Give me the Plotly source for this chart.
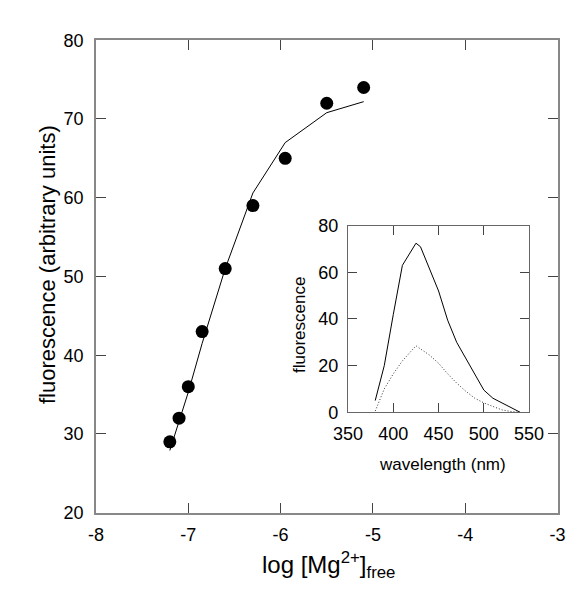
import plotly.graph_objects as go

# Main panel data
log_mg = [-7.2, -7.1, -7.0, -6.85, -6.6, -6.3, -5.95, -5.5, -5.1]
fluor = [29, 32, 36, 43, 51, 59, 65, 72, 74]
fit_x = [-7.2, -7.1, -7.0, -6.85, -6.6, -6.3, -5.95, -5.5, -5.1]
fit_y = [27.9, 31.5, 35.3, 41.5, 51.0, 60.6, 67.0, 70.8, 72.2]

# Inset data
wl_solid = [380, 390, 400, 410, 425, 430, 450, 460, 470, 500, 510, 540]
fl_solid = [5, 20, 42, 63, 72.5, 71, 52, 39.5, 30, 9.5, 6, 0]
wl_dot = [380, 390, 400, 410, 425, 440, 450, 460, 470, 480, 490, 500, 510, 520, 530, 540]
fl_dot = [0.5, 10, 16.5, 22, 28.5, 24.5, 21, 16.5, 12.5, 9, 6, 4, 2.5, 1, 0.3, 0]

main_xticks = [-8, -7, -6, -5, -4, -3]
main_xlabels = ["-8", "-7", "-6", "-5", "-4", "-3"]
main_yticks = [20, 30, 40, 50, 60, 70, 80]
inset_xticks = [350, 400, 450, 500, 550]
inset_yticks = [0, 20, 40, 60, 80]

W, H = 574, 592
FONT = "Liberation Sans, Arial, sans-serif"


def xd(a, b):
    return [a / W, b / W]


def yd(top, bottom):
    return [1 - bottom / H, 1 - top / H]


fig = go.Figure()
fig.add_trace(go.Scatter(x=fit_x, y=fit_y, mode="lines",
                         line=dict(color="black", width=1), xaxis="x", yaxis="y"))
fig.add_trace(go.Scatter(x=log_mg, y=fluor, mode="markers",
                         marker=dict(color="black", size=13), xaxis="x", yaxis="y"))
fig.add_trace(go.Scatter(x=wl_solid, y=fl_solid, mode="lines",
                         line=dict(color="black", width=1), xaxis="x2", yaxis="y2"))
fig.add_trace(go.Scatter(x=wl_dot, y=fl_dot, mode="lines",
                         line=dict(color="#333", width=1, dash="1px,2px"), xaxis="x2", yaxis="y2"))

tick_font = dict(family=FONT, color="black", size=18)
common = dict(showgrid=False, zeroline=False, showline=True, mirror="ticks",
              ticks="inside", tickcolor="#444")

fig.update_layout(
    width=W, height=H,
    margin=dict(l=0, r=0, t=0, b=0),
    paper_bgcolor="white", plot_bgcolor="white",
    showlegend=False,
    font=dict(family=FONT, color="black", size=18),
    xaxis=dict(domain=xd(77, 564), range=[-8, -3], tickvals=main_xticks, ticktext=main_xlabels,
               linecolor="#888", linewidth=1.5, ticklen=10, tickfont=tick_font,
               ticklabelstandoff=5, anchor="y", **common),
    yaxis=dict(domain=yd(23, 512), range=[20, 80], tickvals=main_yticks,
               linecolor="#888", linewidth=1.5, ticklen=10, tickfont=tick_font,
               ticklabelstandoff=7, anchor="x", **common),
    xaxis2=dict(domain=xd(343, 534), range=[350, 550], tickvals=inset_xticks,
                linecolor="#666", linewidth=1.2, ticklen=9, tickfont=tick_font,
                ticklabelstandoff=5, anchor="y2", **common),
    yaxis2=dict(domain=yd(215, 408), range=[0, 80], tickvals=inset_yticks,
                linecolor="#666", linewidth=1.2, ticklen=9, tickfont=tick_font,
                ticklabelstandoff=5, anchor="x2", **common),
)

annotations = [
    dict(text="fluorescence (arbitrary units)", x=26 / W, y=1 - 255 / H, textangle=-90, size=22),
    dict(text="log [Mg<sup>2+</sup>]<sub>free</sub>", x=322 / W, y=1 - 566 / H, size=24),
    dict(text="fluorescence", x=292 / W, y=1 - 318 / H, textangle=-90, size=17),
    dict(text="wavelength (nm)", x=443 / W, y=1 - 462 / H, size=17),
]
for a in annotations:
    size = a.pop("size")
    fig.add_annotation(xref="paper", yref="paper", showarrow=False,
                       xanchor="center", yanchor="middle",
                       font=dict(family=FONT, color="black", size=size), **a)

fig.write_html("out.html")
